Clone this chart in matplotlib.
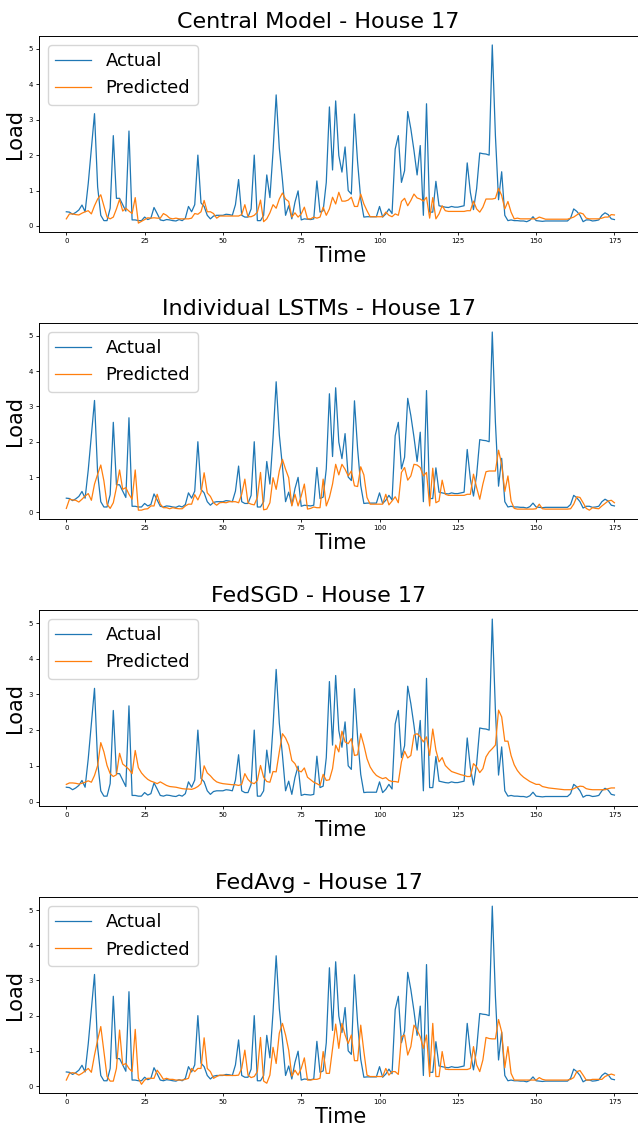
import numpy as np
import matplotlib
matplotlib.use('Agg')
from matplotlib import pyplot as plt

"""
    Dados - consumo da casa 17
"""

actual = [0.40, 0.39, 0.33, 0.38, 0.45, 0.59, 0.40, 1.20, 2.20, 3.17,
          1.10, 0.30, 0.15, 0.15, 0.50, 2.55, 0.78, 0.78, 0.60, 0.42,
          2.68, 0.17, 0.17, 0.15, 0.15, 0.25, 0.18, 0.22, 0.52, 0.35,
          0.17, 0.15, 0.18, 0.17, 0.15, 0.14, 0.18, 0.15, 0.22, 0.55,
          0.40, 0.60, 2.00, 0.65, 0.55, 0.30, 0.20, 0.28, 0.30, 0.30,
          0.30, 0.33, 0.32, 0.30, 0.60, 1.31, 0.30, 0.25, 0.25, 0.48,
          2.00, 0.15, 0.15, 0.30, 1.44, 0.80, 2.10, 3.70, 2.20, 1.30,
          0.30, 0.57, 0.20, 0.67, 0.99, 0.17, 0.20, 0.19, 0.18, 0.20,
          1.27, 0.39, 0.43, 1.23, 3.36, 1.58, 3.53, 1.99, 1.52, 2.23,
          1.00, 0.90, 3.16, 1.80, 0.76, 0.25, 0.26, 0.26, 0.26, 0.26,
          0.55, 0.25, 0.34, 0.48, 0.35, 2.17, 2.55, 1.23, 1.56, 3.23,
          2.74, 2.13, 1.44, 2.27, 0.30, 3.45, 0.39, 0.39, 1.26, 0.57,
          0.55, 0.53, 0.52, 0.55, 0.53, 0.53, 0.55, 0.57, 1.78, 0.95,
          0.46, 1.05, 2.06, 2.04, 2.03, 2.00, 5.11, 2.55, 0.74, 1.53,
          0.30, 0.15, 0.17, 0.15, 0.15, 0.14, 0.14, 0.12, 0.16, 0.26,
          0.15, 0.14, 0.13, 0.14, 0.14, 0.14, 0.14, 0.14, 0.14, 0.14,
          0.14, 0.22, 0.48, 0.41, 0.30, 0.12, 0.17, 0.17, 0.14, 0.15,
          0.17, 0.30, 0.37, 0.32, 0.20, 0.18]

pred_central = [0.20, 0.34, 0.34, 0.32, 0.31, 0.36, 0.40, 0.43, 0.34, 0.57,
                0.76, 0.88, 0.57, 0.25, 0.20, 0.25, 0.48, 0.75, 0.42, 0.50,
                0.42, 0.35, 0.80, 0.08, 0.13, 0.18, 0.23, 0.22, 0.23, 0.22,
                0.22, 0.35, 0.30, 0.22, 0.20, 0.22, 0.20, 0.20, 0.20, 0.20,
                0.22, 0.35, 0.33, 0.40, 0.72, 0.40, 0.40, 0.35, 0.22, 0.28,
                0.28, 0.28, 0.28, 0.28, 0.28, 0.28, 0.32, 0.60, 0.26, 0.26,
                0.30, 0.39, 0.73, 0.12, 0.20, 0.37, 0.60, 0.50, 0.76, 0.93,
                0.76, 0.69, 0.25, 0.37, 0.25, 0.34, 0.53, 0.20, 0.20, 0.25,
                0.22, 0.25, 0.53, 0.30, 0.48, 0.81, 0.62, 0.95, 0.70, 0.70,
                0.73, 0.81, 0.55, 0.55, 0.90, 0.62, 0.43, 0.26, 0.26, 0.26,
                0.26, 0.26, 0.39, 0.30, 0.26, 0.34, 0.30, 0.69, 0.78, 0.57,
                0.72, 0.90, 0.79, 0.76, 0.70, 0.81, 0.22, 0.80, 0.20, 0.34,
                0.57, 0.43, 0.41, 0.41, 0.41, 0.41, 0.41, 0.41, 0.43, 0.43,
                0.70, 0.48, 0.39, 0.53, 0.76, 0.76, 0.76, 0.78, 1.06, 0.86,
                0.48, 0.69, 0.39, 0.20, 0.22, 0.20, 0.20, 0.20, 0.20, 0.20,
                0.20, 0.25, 0.22, 0.19, 0.19, 0.19, 0.19, 0.19, 0.19, 0.19,
                0.19, 0.22, 0.25, 0.31, 0.37, 0.34, 0.22, 0.20, 0.20, 0.20,
                0.20, 0.22, 0.25, 0.25, 0.32, 0.31]

pred_lstm = [0.11, 0.37, 0.35, 0.34, 0.29, 0.37, 0.46, 0.53, 0.34, 0.80,
             1.08, 1.34, 0.89, 0.23, 0.11, 0.27, 0.70, 1.20, 0.65, 0.70,
             0.51, 0.37, 1.20, 0.06, 0.06, 0.09, 0.10, 0.18, 0.18, 0.51,
             0.23, 0.13, 0.13, 0.10, 0.13, 0.11, 0.10, 0.10, 0.18, 0.23,
             0.23, 0.50, 0.35, 0.55, 1.12, 0.55, 0.45, 0.27, 0.20, 0.27,
             0.28, 0.27, 0.30, 0.30, 0.30, 0.27, 0.51, 0.94, 0.27, 0.23,
             0.21, 0.42, 1.13, 0.07, 0.09, 0.27, 0.98, 0.65, 1.17, 1.50,
             1.22, 0.98, 0.18, 0.51, 0.18, 0.46, 0.80, 0.09, 0.11, 0.15,
             0.13, 0.13, 0.94, 0.18, 0.42, 0.80, 1.36, 1.06, 1.36, 1.22,
             1.03, 1.17, 0.75, 0.73, 1.29, 1.06, 0.42, 0.23, 0.23, 0.23,
             0.23, 0.23, 0.51, 0.21, 0.32, 0.44, 0.27, 1.13, 1.27, 0.91,
             1.03, 1.36, 1.34, 1.27, 1.03, 1.13, 0.18, 1.25, 0.27, 0.32,
             0.91, 0.51, 0.48, 0.48, 0.48, 0.48, 0.48, 0.48, 0.51, 0.51,
             1.08, 0.70, 0.37, 0.80, 1.15, 1.17, 1.17, 1.17, 1.76, 1.36,
             0.59, 1.03, 0.32, 0.11, 0.09, 0.09, 0.09, 0.09, 0.09, 0.09,
             0.10, 0.23, 0.10, 0.09, 0.09, 0.09, 0.09, 0.09, 0.09, 0.09,
             0.09, 0.10, 0.23, 0.44, 0.42, 0.27, 0.11, 0.06, 0.13, 0.11,
             0.10, 0.18, 0.25, 0.32, 0.34, 0.27]

pred_fedsgd = [0.48, 0.52, 0.52, 0.51, 0.49, 0.51, 0.54, 0.58, 0.54, 0.73,
               1.01, 1.65, 1.39, 1.01, 0.78, 0.70, 0.75, 1.35, 1.05, 0.98,
               0.90, 0.78, 1.43, 0.95, 0.80, 0.70, 0.62, 0.57, 0.54, 0.50,
               0.55, 0.50, 0.45, 0.42, 0.41, 0.40, 0.38, 0.36, 0.35, 0.35,
               0.34, 0.37, 0.42, 0.50, 1.00, 0.80, 0.72, 0.62, 0.55, 0.52,
               0.50, 0.49, 0.48, 0.47, 0.47, 0.45, 0.48, 0.78, 0.62, 0.53,
               0.50, 0.59, 1.01, 0.68, 0.56, 0.54, 0.84, 0.83, 1.39, 1.90,
               1.78, 1.58, 1.15, 1.06, 0.87, 0.83, 0.94, 0.68, 0.61, 0.54,
               0.50, 0.45, 0.76, 0.59, 0.61, 0.92, 1.58, 1.39, 1.97, 1.67,
               1.62, 1.76, 1.29, 1.31, 1.90, 1.58, 1.20, 0.97, 0.83, 0.73,
               0.68, 0.64, 0.67, 0.59, 0.56, 0.56, 0.54, 1.11, 1.41, 1.22,
               1.29, 1.86, 1.90, 1.81, 1.67, 1.81, 1.29, 2.03, 1.44, 1.11,
               1.23, 1.01, 0.92, 0.84, 0.81, 0.78, 0.75, 0.73, 0.70, 0.70,
               1.06, 0.97, 0.81, 0.92, 1.25, 1.39, 1.48, 1.58, 2.56, 2.37,
               1.69, 1.69, 1.29, 1.03, 0.87, 0.76, 0.68, 0.62, 0.56, 0.52,
               0.48, 0.48, 0.42, 0.40, 0.38, 0.37, 0.36, 0.35, 0.34, 0.33,
               0.33, 0.33, 0.36, 0.40, 0.43, 0.42, 0.36, 0.34, 0.33, 0.33,
               0.33, 0.33, 0.33, 0.36, 0.38, 0.38]

pred_fedavg = [0.17, 0.36, 0.38, 0.36, 0.31, 0.36, 0.43, 0.50, 0.39, 0.88,
               1.31, 1.69, 0.98, 0.27, 0.14, 0.14, 0.50, 1.59, 0.60, 0.64,
               0.50, 0.41, 1.61, 0.22, 0.05, 0.17, 0.22, 0.22, 0.22, 0.45,
               0.33, 0.19, 0.22, 0.19, 0.19, 0.17, 0.17, 0.17, 0.19, 0.22,
               0.50, 0.41, 0.50, 0.50, 1.37, 0.50, 0.41, 0.22, 0.27, 0.31,
               0.31, 0.30, 0.30, 0.30, 0.30, 0.31, 0.50, 1.02, 0.31, 0.24,
               0.27, 0.41, 1.38, 0.14, 0.08, 0.31, 1.10, 0.64, 1.50, 1.78,
               1.45, 1.02, 0.28, 0.45, 0.31, 0.50, 0.80, 0.17, 0.17, 0.19,
               0.19, 0.22, 0.98, 0.36, 0.36, 1.07, 1.76, 1.07, 1.78, 1.45,
               1.21, 1.45, 0.72, 0.72, 1.73, 0.98, 0.31, 0.27, 0.27, 0.27,
               0.27, 0.27, 0.50, 0.31, 0.41, 0.41, 0.33, 1.40, 1.45, 0.88,
               1.12, 1.73, 1.59, 1.40, 1.07, 1.45, 0.27, 1.78, 0.27, 0.27,
               0.98, 0.48, 0.47, 0.47, 0.47, 0.47, 0.47, 0.47, 0.47, 0.50,
               1.12, 0.60, 0.41, 0.74, 1.38, 1.35, 1.34, 1.34, 1.89, 1.54,
               0.52, 1.12, 0.36, 0.17, 0.17, 0.17, 0.17, 0.17, 0.17, 0.17,
               0.17, 0.24, 0.19, 0.17, 0.17, 0.17, 0.17, 0.17, 0.17, 0.17,
               0.17, 0.19, 0.24, 0.41, 0.44, 0.31, 0.17, 0.17, 0.19, 0.19,
               0.19, 0.19, 0.27, 0.31, 0.34, 0.31]

titles = ['Central Model - House 17', 'Individual LSTMs - House 17',
          'FedSGD - House 17', 'FedAvg - House 17']
predicted = [pred_central, pred_lstm, pred_fedsgd, pred_fedavg]


def main():

    fig, axs = plt.subplots(4, 1, figsize=(6.38, 11.27), dpi=100)
    fig.subplots_adjust(left=0.061, right=1.006, top=0.968, bottom=0.030, hspace=0.465)

    for ax, titulo, pred in zip(axs, titles, predicted):
        ax.plot(actual, color='#1f77b4', linewidth=0.9, label='Actual')
        ax.plot(pred, color='#ff7f0e', linewidth=0.9, label='Predicted')
        # titulo centrado na figura, nao no eixo
        ax.set_title(titulo, fontsize=16, x=0.464)
        ax.set_xlabel('Time', fontsize=15, labelpad=1)
        ax.set_ylabel('Load', fontsize=15, labelpad=2)
        ax.set_xticks([0, 25, 50, 75, 100, 125, 150, 175])
        ax.tick_params(labelsize=5, length=2.5, width=0.6, pad=2)
        for s in ax.spines.values():
            s.set_linewidth(0.7)
        ax.legend(loc='upper left', fontsize=13)

    fig.savefig('out.png')


if __name__ == '__main__':
    main()
